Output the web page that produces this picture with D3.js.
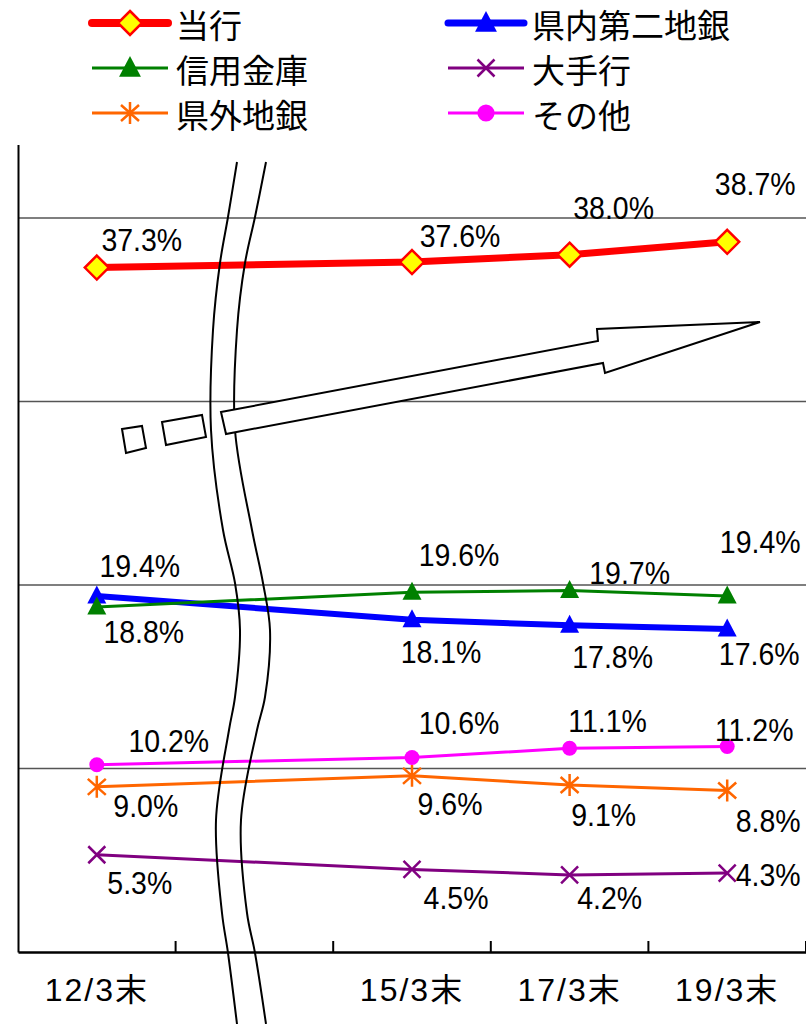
<!DOCTYPE html>
<html><head><meta charset="utf-8">
<script src="https://cdn.jsdelivr.net/npm/d3@7"></script>
<style>
html,body{margin:0;padding:0;background:#fff;}
svg{display:block;}
</style></head>
<body>
<svg id="chart" width="806" height="1024"></svg>
<script>
// ---- data ----
const categories = ["12/3末", "15/3末", "17/3末", "19/3末"];
const slots = ["12/3末", "中略", "15/3末", "17/3末", "19/3末"];
const seriesNames = ["当行", "県内第二地銀", "信用金庫", "大手行", "県外地銀", "その他"];
const toukou   = [37.3, 37.6, 38.0, 38.7];
const kennai2  = [19.4, 18.1, 17.8, 17.6];
const shinkin  = [18.8, 19.6, 19.7, 19.4];
const oote     = [5.3, 4.5, 4.2, 4.3];
const kengai   = [9.0, 9.6, 9.1, 8.8];
const sonota   = [10.2, 10.6, 11.1, 11.2];
const gridValues = [10, 20, 30, 40];

// ---- layout (label offsets from marker, px) ----
const labelOffsets = {
  "当行":        [[45,-28],[48,-26],[44,-47],[28,-58]],
  "県内第二地銀": [[43,-30],[29,32],[43,32],[32,25]],
  "信用金庫":     [[47,25],[47,-37],[60,-18],[33,-54]],
  "大手行":       [[43,28],[44,28],[40,23],[41,2]],
  "県外地銀":     [[49,19],[38,28],[34,30],[41,30]],
  "その他":       [[72,-24],[47,-35],[38,-27],[27,-17]]
};

const seriesValues = [toukou, kennai2, shinkin, oote, kengai, sonota];
const styles = {
  "当行":        {color:"#ff0000", width:7, lw:8, marker:"diamond"},
  "県内第二地銀": {color:"#0000ff", width:6, lw:7, marker:"triangle"},
  "信用金庫":     {color:"#008000", width:3, lw:3, marker:"triangle"},
  "大手行":       {color:"#800080", width:3, lw:3, marker:"x"},
  "県外地銀":     {color:"#ff6600", width:3, lw:3, marker:"asterisk"},
  "その他":       {color:"#ff00ff", width:3, lw:3, marker:"circle"}
};
const series = seriesNames.map((n,i)=>({name:n, values:seriesValues[i], ...styles[n]}));

const svg = d3.select("#chart");
const left = 18, right = 806, bottom = 952;
const x = d3.scaleBand().domain(slots).range([left, right]).padding(0);
const y = d3.scaleLinear().domain([0, 44]).range([bottom, bottom - 44*18.35]);
const cx = c => x(c) + x.bandwidth()/2;

// gridlines
svg.append("g").selectAll("line").data(gridValues).join("line")
  .attr("x1", left).attr("x2", right)
  .attr("y1", d=>y(d)).attr("y2", d=>y(d))
  .attr("stroke", "#555").attr("stroke-width", 1.3);

// y axis
const yAxis = svg.append("g").attr("transform", `translate(${left},0)`)
  .call(d3.axisLeft(y).tickValues([]).tickSizeOuter(0));
yAxis.select(".domain").attr("stroke", "#000").attr("stroke-width", 2);

// x axis
const xAxis = svg.append("g").attr("transform", `translate(0,${bottom})`)
  .call(d3.axisBottom(x).tickSize(0).tickSizeOuter(0).tickPadding(38)
    .tickFormat(d => categories.includes(d) ? d : ""));
xAxis.select(".domain").attr("stroke", "#000").attr("stroke-width", 2.5);
xAxis.selectAll("text")
  .attr("font-family", "'Liberation Sans', Arial, 'Noto Sans CJK JP', sans-serif")
  .attr("font-size", 32).attr("fill", "#000").attr("letter-spacing", 2)
  .attr("dominant-baseline", "central").attr("dy", 0);
// boundary ticks (upward)
const edges = slots.map(s => x(s) + x.bandwidth());
svg.append("g").selectAll("line").data(edges).join("line")
  .attr("x1", d=>d).attr("x2", d=>d)
  .attr("y1", bottom).attr("y2", bottom-11)
  .attr("stroke", "#000").attr("stroke-width", 2);

// lines
const line = d3.line().x((d,i)=>cx(categories[i])).y(d=>y(d));
svg.append("g").selectAll("path").data(series).join("path")
  .attr("d", s=>line(s.values))
  .attr("fill","none").attr("stroke", s=>s.color).attr("stroke-width", s=>s.width)
  .attr("stroke-linejoin","round");

// break curves
const breakLeft = [[237,162],[228,217],[220,263],[213,330],[211,430],[223,530],[235,583],[240,630],[235,697],[229,730],[216,820],[222,913],[228,953],[237,1024]];
const breakRight = [[266,162],[255,217],[245,263],[237,330],[235,430],[252,530],[263,583],[270,630],[265,697],[257,730],[241,820],[247,913],[255,953],[266,1024]];
const curve = d3.line().curve(d3.curveCatmullRom);
svg.append("g").selectAll("path").data([breakLeft, breakRight]).join("path")
  .attr("d", d=>curve(d)).attr("fill","none").attr("stroke","#000").attr("stroke-width",2);

// arrow and dashes
const arrow = [[221,412],[598,341],[597,329],[760,322],[605,373],[603,363],[226,434]];
const rect1 = [[122,429],[142,426],[146,448],[126,453]];
const rect2 = [[162,422],[202,415],[206,437],[166,445]];
svg.append("g").selectAll("path").data([arrow, rect1, rect2]).join("path")
  .attr("d", d=>"M"+d.join("L")+"Z")
  .attr("fill","#fff").attr("stroke","#000").attr("stroke-width",2).attr("stroke-linejoin","miter");

// markers
function markerPath(type, big){
  const k = big ? 1.15 : 1;
  switch(type){
    case "diamond": return "M0,-12L12,0L0,12L-12,0Z";
    case "triangle": return `M0,${-10.5*k}L${9.5*k},${7.5*k}L${-9.5*k},${7.5*k}Z`;
    case "x": return "M-8.5,-8.5L8.5,8.5M-8.5,8.5L8.5,-8.5";
    case "asterisk": return "M-9,-8L9,8M-9,8L9,-8M0,-11L0,11";
    case "circle": return d3.symbol(d3.symbolCircle, Math.PI*56*k*k)();
  }
}
function drawMarker(g, s, big){
  const p = g.append("path").attr("d", markerPath(s.marker, big));
  if (s.marker === "diamond") p.attr("fill","#ffff00").attr("stroke","#ff0000").attr("stroke-width",2.5);
  else if (s.marker === "x" || s.marker === "asterisk") p.attr("fill","none").attr("stroke", s.color).attr("stroke-width",2.5);
  else p.attr("fill", s.color).attr("stroke","none");
}
series.forEach(s=>{
  s.values.forEach((v,i)=>{
    const g = svg.append("g").attr("transform", `translate(${cx(categories[i])},${y(v)})`);
    drawMarker(g, s, false);
  });
});

// data labels
const labelFont = "'Liberation Sans', Arial, sans-serif";
series.forEach(s=>{
  s.values.forEach((v,i)=>{
    const off = labelOffsets[s.name][i];
    svg.append("text")
      .attr("transform", `translate(${cx(categories[i])+off[0]},${y(v)+off[1]}) scale(0.89,1)`)
      .attr("text-anchor","middle").attr("dominant-baseline","central")
      .attr("font-family", labelFont).attr("font-size", 32).attr("fill","#000")
      .text(v.toFixed(1) + "%");
  });
});

// legend
const legCols = [92, 448], legRows = [23, 68, 113], legLen = 76;
const legOrder = [["当行",0,0],["県内第二地銀",1,0],["信用金庫",0,1],["大手行",1,1],["県外地銀",0,2],["その他",1,2]];
legOrder.forEach(([name,c,r])=>{
  const s = series.find(d=>d.name===name);
  const g = svg.append("g").attr("transform", `translate(${legCols[c]},${legRows[r]})`);
  g.append("line").attr("x1",0).attr("x2",legLen).attr("y1",0).attr("y2",0)
    .attr("stroke", s.color).attr("stroke-width", s.lw).attr("stroke-linecap", s.lw>5?"round":"butt");
  drawMarker(g.append("g").attr("transform",`translate(${legLen/2},0)`), s, true);
  g.append("text").attr("x", legLen+8).attr("y", 1).attr("dominant-baseline","central")
    .attr("font-family","'Noto Sans CJK JP', sans-serif").attr("font-size",33).attr("fill","#000")
    .text(name);
});
</script>
</body></html>
